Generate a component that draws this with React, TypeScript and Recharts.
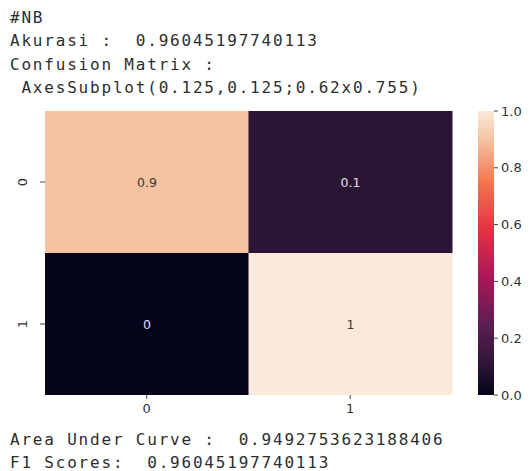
import { BarChart, Bar, XAxis, YAxis, Cell, LabelList } from "recharts";

const headerLines = ["#NB", "Akurasi :  0.96045197740113", "Confusion Matrix :", " AxesSubplot(0.125,0.125;0.62x0.755)"];
const footerLines = ["Area Under Curve :  0.9492753623188406", "F1 Scores:  0.96045197740113"];

const colLabels = ["0", "1"];
const rowLabels = ["0", "1"];
const matrix = [
  [0.9, 0.1],
  [0, 1],
];
const colorbarTicks = [0, 0.2, 0.4, 0.6, 0.8, 1];

// rocket-ish colormap stops (position, colour)
const cmapStops: [number, string][] = [
  [0, "#03051a"],
  [0.1, "#2a1535"],
  [0.25, "#5e1e52"],
  [0.42, "#ad1759"],
  [0.58, "#e13342"],
  [0.75, "#f37651"],
  [0.9, "#f5c3a1"],
  [1, "#fbe9dc"],
];

function hexToRgb(h: string) {
  return [1, 3, 5].map((i) => parseInt(h.slice(i, i + 2), 16));
}

function cmap(v: number) {
  for (let i = 1; i < cmapStops.length; i++) {
    const [p1, c1] = cmapStops[i];
    const [p0, c0] = cmapStops[i - 1];
    if (v <= p1) {
      const t = (v - p0) / (p1 - p0 || 1);
      const a = hexToRgb(c0);
      const b = hexToRgb(c1);
      const rgb = a.map((x, k) => Math.round(x + (b[k] - x) * t));
      return `rgb(${rgb.join(",")})`;
    }
  }
  return cmapStops[cmapStops.length - 1][1];
}

// one stacked bar per column; every cell is one unit high, row "1" at the bottom
const heatData = colLabels.map((c, j) => ({
  col: c,
  bottom: 1,
  top: 1,
  vTop: matrix[0][j],
  vBottom: matrix[1][j],
}));

const colorbarData = [{ name: "cb", value: 1 }];

const mono = "'DejaVu Sans Mono', monospace";
const sans = "'DejaVu Sans', sans-serif";

function CellLabel(props: any) {
  const { x, y, width, height, value } = props;
  const fill = value > 0.5 ? "#3a3a3a" : "#e2e2e2";
  return (
    <text x={x + width / 2} y={y + height / 2} textAnchor="middle" dominantBaseline="central" fontSize={12.5} fontFamily={sans} fill={fill}>
      {value}
    </text>
  );
}

function RowTick(props: any) {
  const { x, y, payload } = props;
  const label = payload.value > 1 ? rowLabels[0] : rowLabels[1];
  return (
    <text x={x} y={y} transform={`rotate(-90 ${x} ${y})`} textAnchor="middle" fontSize={13} fontFamily={sans} fill="#333">
      {label}
    </text>
  );
}

function TextBlock({ lines, top }: { lines: string[]; top: number }) {
  return (
    <div style={{ position: "absolute", left: 10, top, fontFamily: mono, fontSize: 16, letterSpacing: 1.8, lineHeight: "23.3px", color: "#2e2e2e", whiteSpace: "pre" }}>
      {lines.map((l) => (
        <div key={l}>{l}</div>
      ))}
    </div>
  );
}

export default function App() {
  return (
    <div style={{ position: "absolute", left: 0, top: 0, width: 530, height: 471, background: "#fff", overflow: "hidden" }}>
      <TextBlock lines={headerLines} top={6} />

      <div style={{ position: "absolute", left: 0, top: 100 }}>
        <BarChart width={470} height={320} data={heatData} margin={{ top: 11, right: 18, bottom: 0, left: 0 }} barCategoryGap={0}>
          <XAxis dataKey="col" axisLine={false} tickSize={4} tickMargin={5} tickLine={{ stroke: "#444" }} tick={{ fontSize: 13, fontFamily: sans, fill: "#333" }} height={25} />
          <YAxis type="number" domain={[0, 2]} ticks={[0.5, 1.5]} axisLine={false} tickSize={5} tickMargin={13} tickLine={{ stroke: "#444" }} tick={<RowTick />} width={45} />
          <Bar dataKey="bottom" stackId="m" isAnimationActive={false}>
            {heatData.map((d) => (
              <Cell key={d.col} fill={cmap(d.vBottom)} />
            ))}
            <LabelList dataKey="vBottom" content={<CellLabel />} />
          </Bar>
          <Bar dataKey="top" stackId="m" isAnimationActive={false}>
            {heatData.map((d) => (
              <Cell key={d.col} fill={cmap(d.vTop)} />
            ))}
            <LabelList dataKey="vTop" content={<CellLabel />} />
          </Bar>
        </BarChart>
      </div>

      <div style={{ position: "absolute", left: 470, top: 100 }}>
        <BarChart width={60} height={320} data={colorbarData} margin={{ top: 11, right: 0, bottom: 25, left: 8 }} barCategoryGap={0}>
          <defs>
            <linearGradient id="rocket" x1="0" y1="1" x2="0" y2="0">
              {cmapStops.map(([p, c]) => (
                <stop key={p} offset={`${p * 100}%`} stopColor={c} />
              ))}
            </linearGradient>
          </defs>
          <XAxis dataKey="name" hide />
          <YAxis orientation="right" type="number" domain={[0, 1]} ticks={colorbarTicks} axisLine={false} tickSize={4} tickMargin={3} tickLine={{ stroke: "#444" }} tick={{ fontSize: 13, fontFamily: sans, fill: "#333" }} tickFormatter={(v: number) => v.toFixed(1)} width={36} />
          <Bar dataKey="value" fill="url(#rocket)" isAnimationActive={false} />
        </BarChart>
      </div>

      <TextBlock lines={footerLines} top={428} />
    </div>
  );
}
